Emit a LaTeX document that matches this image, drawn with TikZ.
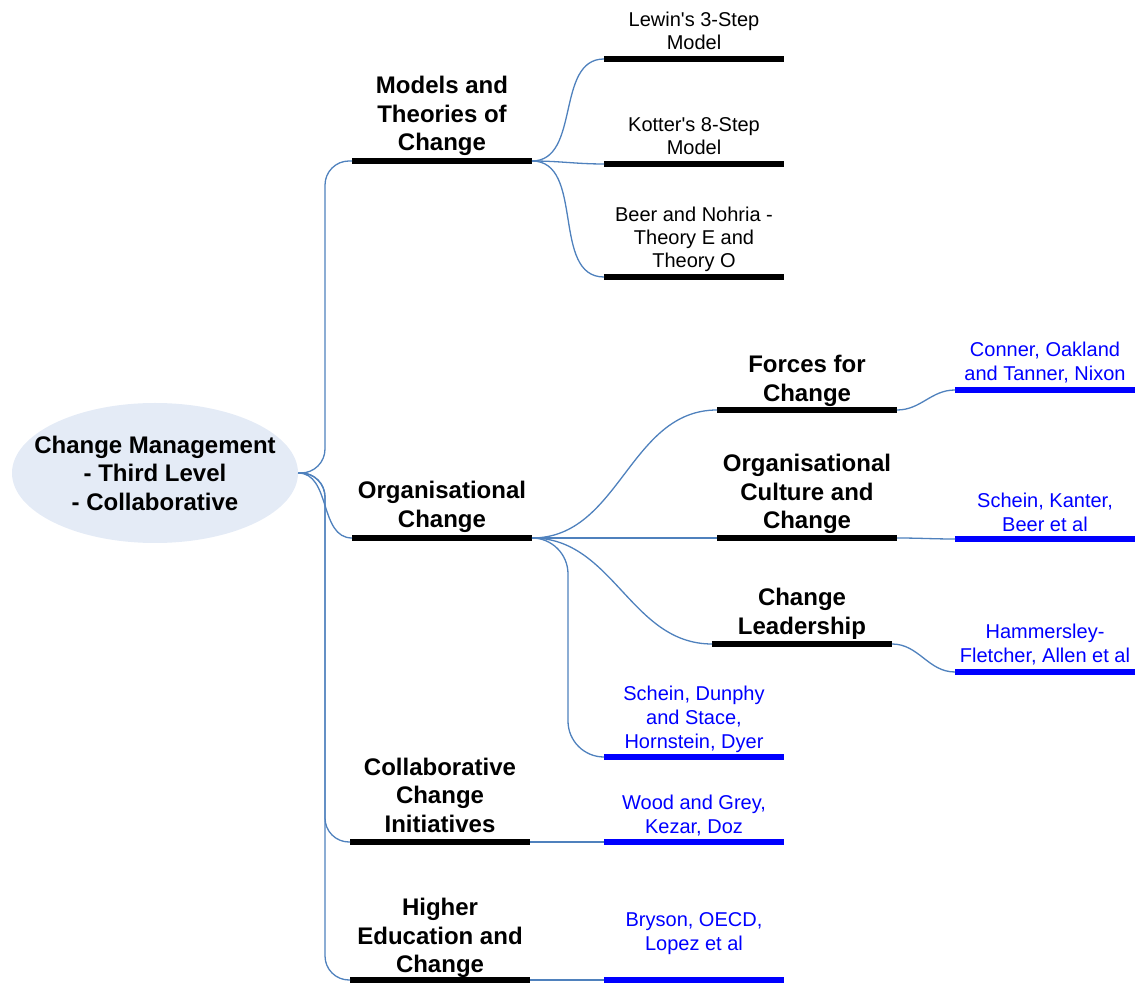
\documentclass[tikz,border=0pt]{standalone}
\usepackage{fontspec}
\setmainfont{Liberation Sans}
\usetikzlibrary{shapes.geometric}
\definecolor{linkblue}{RGB}{79,129,189}
\definecolor{rootfill}{RGB}{228,235,246}
\definecolor{refblue}{RGB}{0,0,255}
\begin{document}
\begin{tikzpicture}[x=0.5pt,y=-0.5pt,
  topicbar/.style={draw=none, fill=black, minimum width=90pt, minimum height=3pt, inner sep=0pt, outer sep=0pt},
  refbar/.style={topicbar, fill=refblue},
  headtext/.style={font=\bfseries\fontsize{12}{14.25}\selectfont, align=center, inner sep=0pt},
  subtext/.style={font=\fontsize{10}{11.5}\selectfont, align=center, inner sep=0pt},
  reftext/.style={font=\fontsize{10}{12}\selectfont, align=center, text=refblue, inner sep=0pt},
  link/.style={draw=linkblue, line width=0.65pt},
  elbow/.style={link, rounded corners=12pt},
]
\useasboundingbox (0,0) rectangle (1141,983);

% central topic
\node[ellipse, fill=rootfill, minimum width=143pt, minimum height=70pt, inner sep=0pt, outer sep=0pt] (root) at (155,473) {};
\node[headtext] (rootT) at (155,473) {Change Management\\- Third Level\\- Collaborative};

% underline bars of the topics
\node[topicbar] (mod)  at (442,161) {};
\node[topicbar] (lew)  at (694,59)  {};
\node[topicbar] (kot)  at (694,164) {};
\node[topicbar] (beer) at (694,277) {};
\node[topicbar] (org)  at (442,538) {};
\node[topicbar] (forc) at (807,410) {};
\node[topicbar] (cult) at (807,538) {};
\node[topicbar] (lead) at (802,644) {};
\node[refbar]   (schd) at (694,757) {};
\node[refbar]   (conn) at (1045,390) {};
\node[refbar]   (schk) at (1045,539) {};
\node[refbar]   (hamm) at (1045,672) {};
\node[topicbar] (coll) at (440,842) {};
\node[refbar]   (wood) at (694,842) {};
\node[topicbar] (hied) at (440,980) {};
\node[refbar]   (brys) at (694,980) {};

% topic texts
\node[headtext] (modT)  at (442,116) {Models and\\Theories of\\Change};
\node[subtext]  (lewT)  at (694,31)  {Lewin\textquotesingle s 3-Step\\Model};
\node[subtext]  (kotT)  at (694,136) {Kotter\textquotesingle s 8-Step\\Model};
\node[subtext]  (beerT) at (694,239) {Beer and Nohria -\\Theory E and\\Theory O};
\node[headtext] (orgT)  at (442,507) {Organisational\\Change};
\node[headtext] (forcT) at (807,381) {Forces for\\Change};
\node[headtext] (cultT) at (807,494) {Organisational\\Culture and\\Change};
\node[headtext] (leadT) at (802,614) {Change\\Leadership};
\node[reftext]  (schdT) at (694,719) {Schein, Dunphy\\and Stace,\\Hornstein, Dyer};
\node[reftext]  (connT) at (1045,363) {Conner, Oakland\\and Tanner, Nixon};
\node[reftext]  (schkT) at (1045,512) {Schein, Kanter,\\Beer et al};
\node[reftext]  (hammT) at (1045,645) {Hammersley-\\Fletcher, Allen et al};
\node[headtext] (collT) at (440,795) {Collaborative\\Change\\Initiatives};
\node[reftext]  (woodT) at (694,816) {Wood and Grey,\\Kezar, Doz};
\node[headtext] (hiedT) at (440,938) {Higher\\Education and\\Change};
\node[reftext]  (brysT) at (694,934) {Bryson, OECD,\\Lopez et al};

% connectors from the central topic
\draw[elbow] (root.east) -- ++(27,0) |- (mod.west);
\draw[link] (root.east) to[out=0,in=180] (org.west);
\draw[elbow] (root.east) -- ++(27,0) |- (coll.west);
\draw[elbow] (root.east) -- ++(27,0) |- (hied.west);

% models and theories
\draw[link] (mod.east) to[out=0,in=180] (lew.west);
\draw[link] (mod.east) to[out=0,in=180] (kot.west);
\draw[link] (mod.east) to[out=0,in=180] (beer.west);

% organisational change
\draw[link] (org.east) to[out=0,in=180] (forc.west);
\draw[link] (org.east) to[out=0,in=180] (cult.west);
\draw[link] (org.east) to[out=0,in=180] (lead.west);
\draw[link, rounded corners=18pt] (org.east) -- ++(36,0) |- (schd.west);
\draw[link] (forc.east) to[out=0,in=180] (conn.west);
\draw[link] (cult.east) to[out=0,in=180] (schk.west);
\draw[link] (lead.east) to[out=0,in=180] (hamm.west);

% remaining branches
\draw[link] (coll.east) -- (wood.west);
\draw[link] (hied.east) -- (brys.west);
\end{tikzpicture}
\end{document}
